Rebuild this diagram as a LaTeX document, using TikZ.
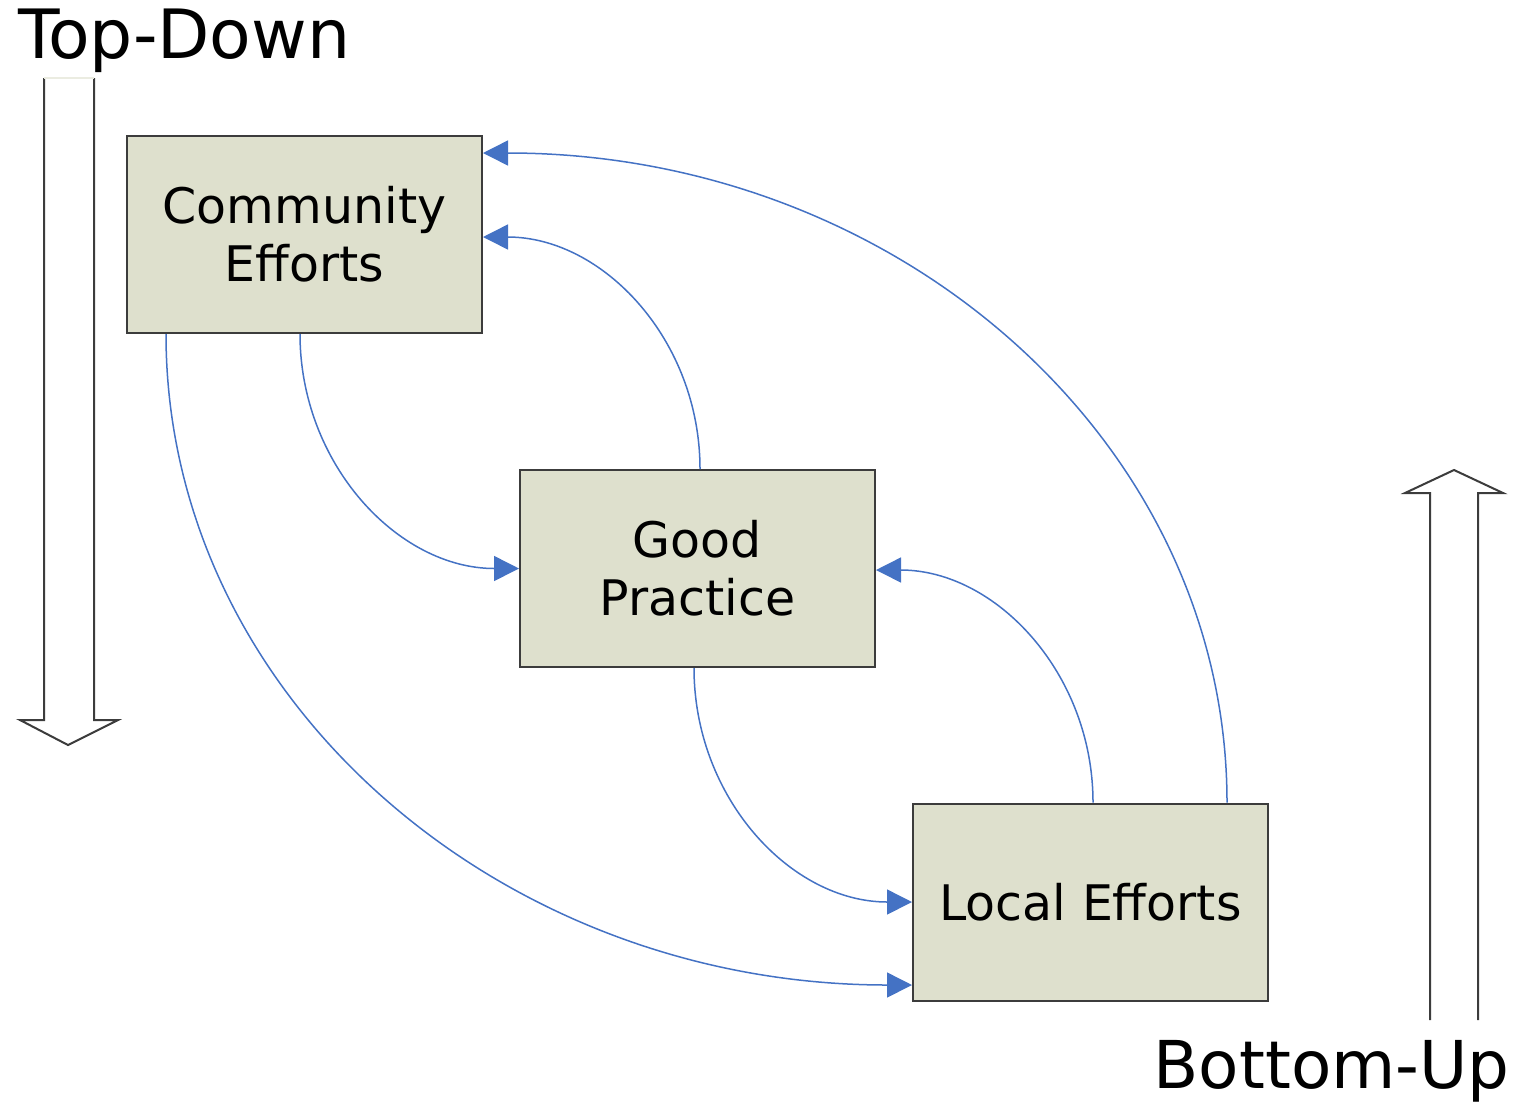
\documentclass[tikz,border=0pt]{standalone}
\usepackage{fontspec}
\setmainfont{DejaVu Sans}
\usetikzlibrary{arrows.meta}
\definecolor{boxfill}{RGB}{222,224,205}
\definecolor{connblue}{RGB}{68,114,196}
\definecolor{outline}{RGB}{60,60,60}
\begin{document}
\begin{tikzpicture}[x=1pt,y=-1pt,
  box/.style={draw=outline,line width=2pt,fill=boxfill,minimum width=355pt,
    minimum height=197pt,inner sep=0pt,align=center,
    font=\fontsize{49}{58}\selectfont},
  conn/.style={draw=connblue,line width=1.5pt,
    -{Triangle[length=25pt,width=25pt]}},
  bigarrow/.style={draw=outline,line width=2pt,fill=white,line join=miter},
  heading/.style={inner sep=0pt,font=\fontsize{68}{72}\selectfont}]
  \useasboundingbox (0,0) rectangle (1538,1104);

  % headings
  \node[heading,anchor=base west] (td) at (18,58) {Top-Down};
  \node[heading,anchor=base east,font=\fontsize{66}{70}\selectfont] (bu)
    at (1510,1088) {Bottom-Up};

  % hollow direction arrows
  \draw[bigarrow] (44,78) -- (44,720) -- (20,720) -- (68,745) -- (118,720)
    -- (94,720) -- (94,78);
  \draw[line width=1.5pt,draw=boxfill!60!white] (44,78) -- (94,78);
  \draw[bigarrow] (1430,1020) -- (1430,493) -- (1405,493) -- (1454,470)
    -- (1503,493) -- (1478,493) -- (1478,1020);

  % boxes
  \node[box] (cp) at (304.5,234.5) {Community\\Efforts};
  \node[box] (gp) at (697.5,568.5) {Good\\Practice};
  \node[box] (lo) at (1090.5,902) {Local Efforts};

  % curved links
  \draw[conn] ([xshift=-4.5pt]cp.south) to[out=-90,in=180,
    out distance=130pt,in distance=121pt] (gp.west);
  \draw[conn] ([xshift=2.5pt]gp.north) to[out=90,in=0,
    out distance=129pt,in distance=120pt] ([yshift=-2.5pt]cp.east);
  \draw[conn] ([xshift=-3.5pt]gp.south) to[out=-90,in=180,
    out distance=130pt,in distance=121pt] (lo.west);
  \draw[conn] ([xshift=2.5pt]lo.north) to[out=90,in=0,
    out distance=129pt,in distance=120pt] ([yshift=-1.5pt]gp.east);
  \draw[conn] ([xshift=-138.5pt]cp.south) to[out=-90,in=180,
    out distance=362pt,in distance=414pt] ([yshift=-83pt]lo.west);
  \draw[conn] ([xshift=136.5pt]lo.north) to[out=90,in=0,
    out distance=362pt,in distance=414pt] ([yshift=81.5pt]cp.east);
\end{tikzpicture}
\end{document}
